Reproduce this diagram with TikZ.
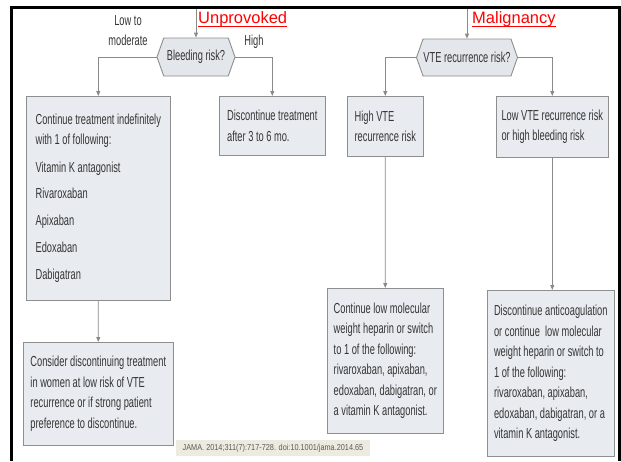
\documentclass[tikz,border=0pt]{standalone}
\usepackage{fontspec}
\setmainfont{Liberation Sans}
\usetikzlibrary{shapes.symbols,arrows.meta}
\definecolor{boxfill}{HTML}{E8ECF0}
\definecolor{boxline}{HTML}{8E8E8E}
\definecolor{txt}{HTML}{353535}
\definecolor{hexfill}{HTML}{E3E6EA}
\definecolor{footfill}{HTML}{EDEAE0}
\definecolor{arrowgray}{HTML}{8A8A8A}
\tikzset{
  box/.style n args={2}{draw=boxline, fill=boxfill, line width=0.9pt, anchor=north west,
    xscale=0.64, transform shape,
    minimum width={#1pt/0.64}, minimum height=#2pt,
    inner xsep=2pt, inner ysep=0pt, align=left, text=txt,
    font=\fontsize{14.5}{20.5}\selectfont},
  hex/.style n args={2}{shape=signal, signal to=west and east, signal pointer angle=122,
    xscale=0.64, transform shape,
    minimum width={#1pt/0.64}, minimum height=#2pt,
    draw=boxline, fill=hexfill, line width=0.9pt, text=txt, inner sep=0pt,
    font=\fontsize{14.5}{16}\selectfont},
  conn/.style={draw=arrowgray, line width=0.9pt, -{Triangle[length=5pt,width=4pt]}},
  branch/.style={text=txt, align=center, xscale=0.64, transform shape,
    font=\fontsize{14.5}{20}\selectfont, inner sep=0pt},
  redlab/.style={text=red, font=\fontsize{16.5}{18}\selectfont, inner sep=0pt, anchor=base west},
  frame/.style={line width=2.6pt, black}
}
\begin{document}
\begin{tikzpicture}[x=1pt,y=-1pt]
\useasboundingbox[fill=white] (0,0) rectangle (621,461);
% frame
\draw[frame] (11.5,461) -- (11.5,7.5) -- (619.5,7.5) -- (619.5,461);
\coordinate (utop) at (196,8.8);
\coordinate (mtop) at (467,8.8);

% red labels
\node[redlab] (unprov) at (198,23.5) {Unprovoked};
\draw[red, line width=1.2pt] ([yshift=-2.8pt]unprov.base west) -- ([yshift=-2.8pt]unprov.base east);
\node[redlab] (malig) at (472,23.5) {Malignancy};
\draw[red, line width=1.2pt] ([yshift=-2.8pt]malig.base west) -- ([yshift=-2.8pt]malig.base east);

% decision hexagons
\node[hex={78}{38}] (bleed) at (196,57) {Bleeding risk?};
\node[hex={101}{37}] (vte) at (467,57.5) {VTE recurrence risk?};

% branch labels
\node[branch] (lowmod) at (128,31) {Low to\\moderate};
\node[branch] (high) at (254,42) {High};

% boxes
\node[box={144}{204}] (A) at (26,96)
  {Continue treatment indefinitely\\
   with 1 of following:\\[7.5pt]
   Vitamin K antagonist\\[5pt]
   Rivaroxaban\\[6.5pt]
   Apixaban\\[6.5pt]
   Edoxaban\\[7pt]
   Dabigatran};
\node[box={106}{59}] (B) at (219,96)
  {Discontinue treatment\\after 3 to 6 mo.};
\node[box={150}{103}] (C) at (23,342)
  {Consider discontinuing treatment\\
   in women at low risk of VTE\\
   recurrence or if strong patient\\
   preference to discontinue.};
\node[box={76}{60}] (D) at (347,96)
  {High VTE\\recurrence risk};
\node[box={112}{61}] (E) at (496,96)
  {Low VTE recurrence risk\\or high bleeding risk};
\node[box={116}{145}] (F) at (327,288)
  {Continue low molecular\\
   weight heparin or switch\\
   to 1 of the following:\\
   rivaroxaban, apixaban,\\
   edoxaban, dabigatran, or\\
   a vitamin K antagonist.};
\node[box={127}{166}] (G) at (487,290)
  {Discontinue anticoagulation\\
   or continue \ low molecular\\
   weight heparin or switch to\\
   1 of the following:\\
   rivaroxaban, apixaban,\\
   edoxaban, dabigatran, or a\\
   vitamin K antagonist.};

% footer
\node[fill=footfill, xscale=0.85, transform shape, minimum width={194pt/0.85}, minimum height=16pt,
  inner sep=0pt, text=black!65, font=\fontsize{8.6}{10}\selectfont] (foot) at (273,448)
  {JAMA. 2014;311(7):717-728. doi:10.1001/jama.2014.65};

% connectors
\draw[conn] (utop) -- (bleed.north);
\draw[conn] (mtop) -- (vte.north);
\draw[conn] (bleed.west) -| (A.north);
\draw[conn] (bleed.east) -| (B.north);
\draw[conn] (vte.west) -| (D.north);
\draw[conn] (vte.east) -| (E.north);
\draw[conn] (A.south) -- (C.north);
\draw[conn] (D.south) -- (F.north);
\draw[conn] (E.south) -- (E.south |- G.north);
\end{tikzpicture}
\end{document}
